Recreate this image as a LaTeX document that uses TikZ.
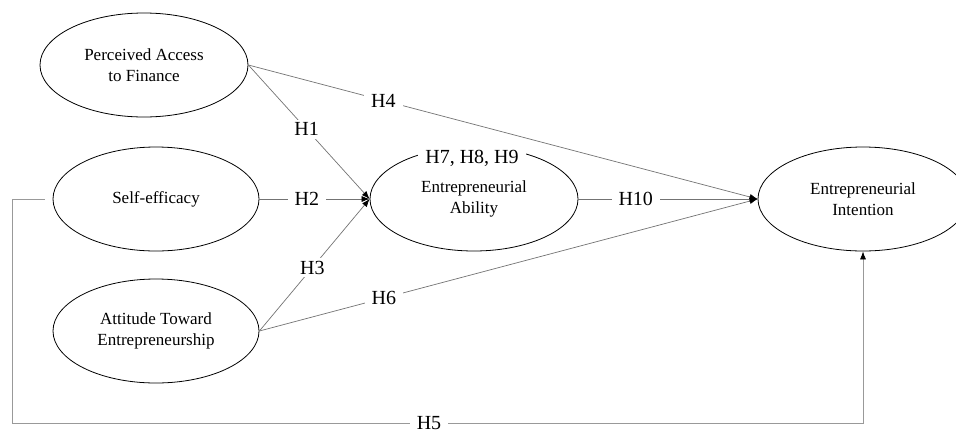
\documentclass[tikz,border=0pt]{standalone}
\usepackage{fontspec}
\setmainfont{Liberation Serif}
\usetikzlibrary{shapes.geometric,arrows.meta}
\begin{document}
\begin{tikzpicture}[x=1pt,y=-1pt,
  construct/.style={draw=black,line width=0.8pt,ellipse,inner sep=0pt,align=center,
    minimum width=208pt,minimum height=104pt,font=\fontsize{17}{21}\selectfont},
  link/.style={draw=black!55,line width=0.7pt},
  arr/.style={link,-{Latex[length=8pt,width=6pt,black]}},
  hyp/.style={fill=white,inner xsep=7pt,inner ysep=3pt,font=\fontsize{20}{24}\selectfont}]
\useasboundingbox (0,0) rectangle (956,432);
\node[construct] (paf) at (144,65) {Perceived Access\\to Finance};
\node[construct,minimum width=206pt] (se) at (156,199) {Self-efficacy};
\node[construct,minimum width=206pt] (att) at (156,331) {Attitude Toward\\Entrepreneurship};
\node[construct] (ea) at (474,199) {Entrepreneurial\\Ability};
\node[construct,minimum width=210pt] (ei) at (863,199) {Entrepreneurial\\Intention};
\coordinate (c1) at (12,423);
\draw[arr] (paf.east) -- node[hyp,pos=0.265]{H4} (ei.west);
\draw[arr] (att.east) -- node[hyp,pos=0.25]{H6} (ei.west);
\draw[arr] (paf.east) -- node[hyp,pos=0.48]{H1} (ea.west);
\draw[arr] (se.east) -- node[hyp,pos=0.43]{H2} (ea.west);
\draw[arr] (att.east) -- node[hyp,pos=0.48]{H3} (ea.west);
\draw[arr] (ea.east) -- node[hyp,pos=0.32]{H10} (ei.west);
\draw[arr,draw=black!40] ([xshift=-8pt]se.west) -| (c1) -- node[hyp,pos=0.49]{H5} (ei.south |- c1) -- (ei.south);
\node[hyp,inner ysep=7pt] (h789) at (472,158) {H7, H8, H9};
\end{tikzpicture}
\end{document}
